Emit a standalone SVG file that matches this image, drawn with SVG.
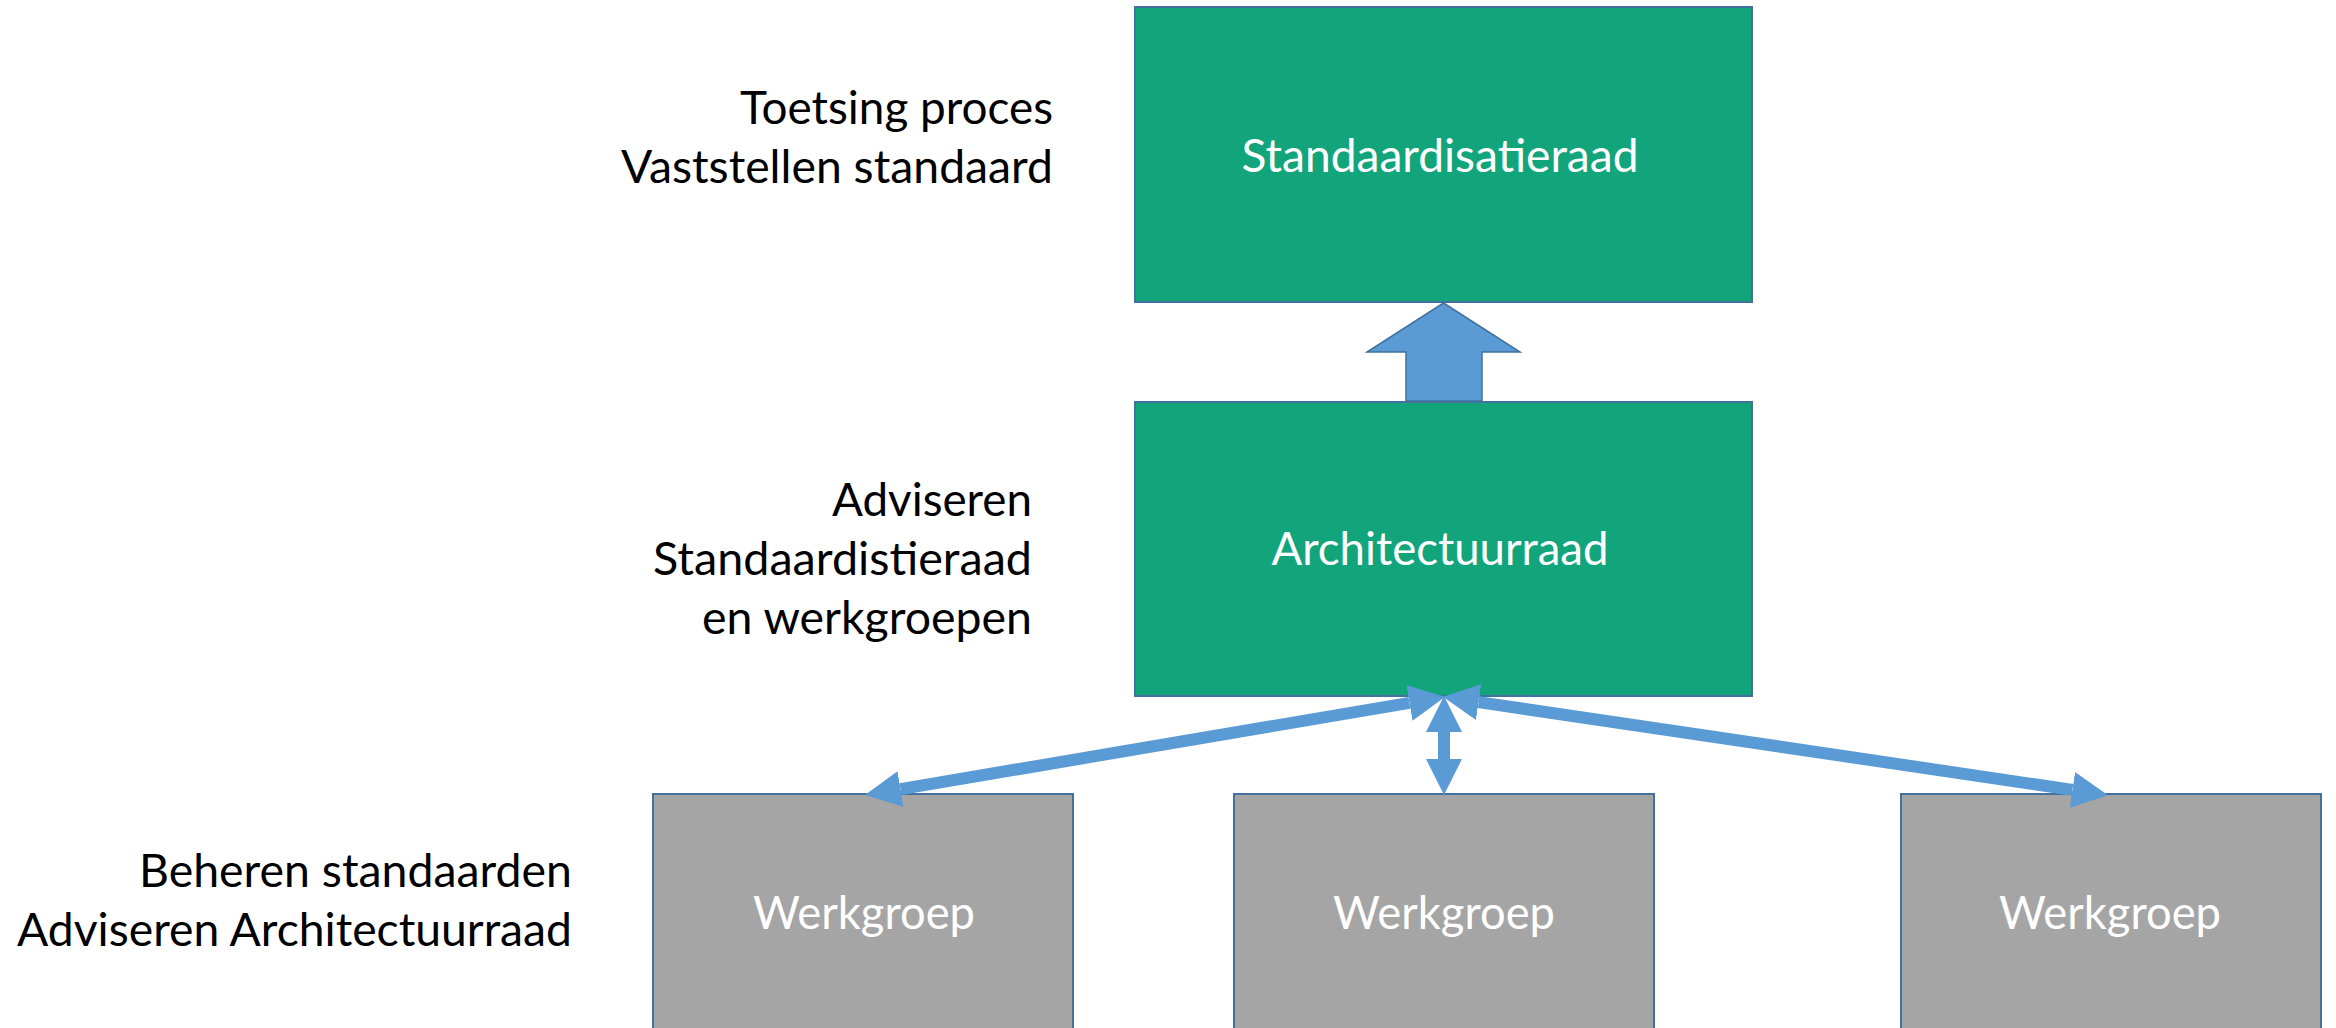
<svg xmlns="http://www.w3.org/2000/svg" width="2336" height="1028" viewBox="0 0 2336 1028">
  <style>
    .green { fill: #12A57C; stroke: #41719C; stroke-width: 2; }
    .grey { fill: #A5A5A5; stroke: #41719C; stroke-width: 2; }
    .nodeText { font-family: Lato, "Open Sans", "Liberation Sans", sans-serif; font-size: 47px; fill: #FFFFFF; text-anchor: middle; }
    .label { font-family: Lato, "Open Sans", "Liberation Sans", sans-serif; font-size: 47px; fill: #000000; text-anchor: end; }
    .conn { stroke: #5B9BD5; stroke-width: 12; fill: none; }
  </style>
  <defs>
    <marker id="head" markerUnits="userSpaceOnUse" markerWidth="36" markerHeight="36" viewBox="0 0 35 35" refX="0" refY="17.5" orient="auto-start-reverse">
      <path d="M0,0 L35,17.5 L0,35 Z" fill="#5B9BD5"/>
    </marker>
  </defs>
  <rect width="2336" height="1028" fill="#FFFFFF"/>

  <g id="labels">
    <text class="label" x="1053" y="124" textLength="313" lengthAdjust="spacingAndGlyphs">Toetsing proces</text>
    <text class="label" x="1053" y="183" textLength="432" lengthAdjust="spacingAndGlyphs">Vaststellen standaard</text>
    <text class="label" x="1032" y="516" textLength="200" lengthAdjust="spacingAndGlyphs">Adviseren</text>
    <text class="label" x="1032" y="575" textLength="379" lengthAdjust="spacingAndGlyphs">Standaardistieraad</text>
    <text class="label" x="1032" y="634" textLength="330" lengthAdjust="spacingAndGlyphs">en werkgroepen</text>
    <text class="label" x="572" y="887" textLength="433" lengthAdjust="spacingAndGlyphs">Beheren standaarden</text>
    <text class="label" x="572" y="946" textLength="555" lengthAdjust="spacingAndGlyphs">Adviseren Architectuurraad</text>
  </g>

  <g id="node-standaardisatieraad">
    <rect class="green" x="1135" y="7" width="617" height="295"/>
    <text class="nodeText" x="1440" y="172" textLength="397" lengthAdjust="spacingAndGlyphs">Standaardisatieraad</text>
  </g>

  <g id="node-architectuurraad">
    <rect class="green" x="1135" y="402" width="617" height="294"/>
    <text class="nodeText" x="1440" y="565" textLength="337" lengthAdjust="spacingAndGlyphs">Architectuurraad</text>
  </g>

  <g id="node-werkgroep-1">
    <rect class="grey" x="653" y="794" width="420" height="260"/>
    <text class="nodeText" x="864" y="929" textLength="222" lengthAdjust="spacingAndGlyphs">Werkgroep</text>
  </g>

  <g id="node-werkgroep-2">
    <rect class="grey" x="1234" y="794" width="420" height="260"/>
    <text class="nodeText" x="1444" y="929" textLength="222" lengthAdjust="spacingAndGlyphs">Werkgroep</text>
  </g>

  <g id="node-werkgroep-3">
    <rect class="grey" x="1901" y="794" width="420" height="260"/>
    <text class="nodeText" x="2110" y="929" textLength="222" lengthAdjust="spacingAndGlyphs">Werkgroep</text>
  </g>

  <g id="connectors">
    <polygon points="1443.5,303 1520,352 1482,352 1482,401 1406,401 1406,352 1367,352" fill="#5B9BD5" stroke="#41719C" stroke-width="1.5"/>
    <line class="conn" x1="1409.5" y1="702.9" x2="900.5" y2="789.1" marker-start="url(#head)" marker-end="url(#head)"/>
    <line class="conn" x1="1478.6" y1="702.1" x2="2072.4" y2="789.9" marker-start="url(#head)" marker-end="url(#head)"/>
    <line class="conn" x1="1444" y1="732" x2="1444" y2="759" stroke-width="14" marker-start="url(#head)" marker-end="url(#head)"/>
  </g>
</svg>
